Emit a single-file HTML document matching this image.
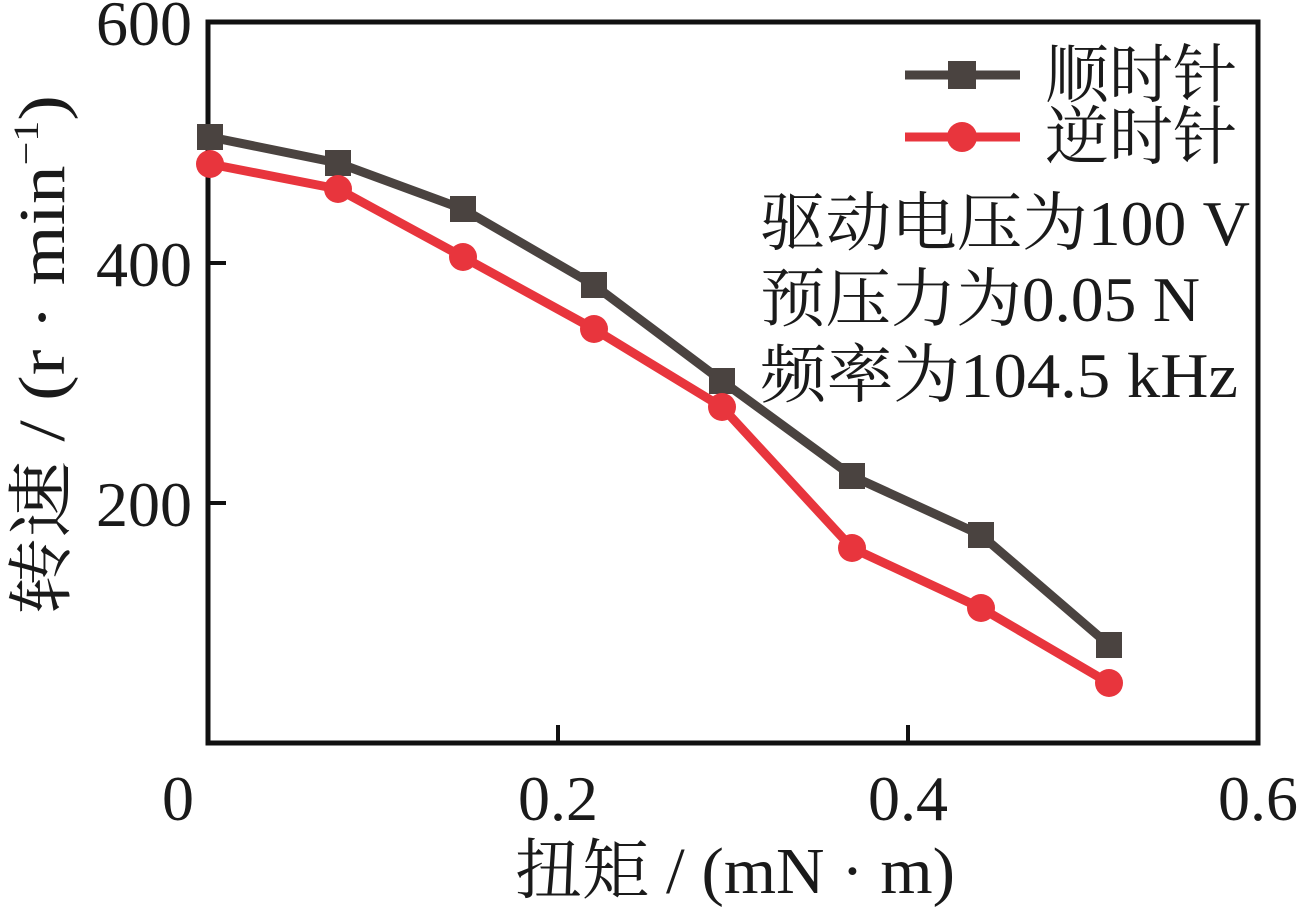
<!DOCTYPE html>
<html><head><meta charset="utf-8"><style>
html,body{margin:0;padding:0;background:#fff;}
svg{display:block;}
text{font-family:"Liberation Serif","Noto Serif CJK SC",serif;fill:#1a1a1a;}
</style></head><body>
<svg width="1303" height="911" viewBox="0 0 1303 911" xmlns="http://www.w3.org/2000/svg">
<rect x="0" y="0" width="1303" height="911" fill="#fff"/>
<rect x="208" y="22" width="1050" height="721" fill="none" stroke="#111" stroke-width="5"/>
<g stroke="#111" stroke-width="4">
<line x1="208" y1="263" x2="226" y2="263"/>
<line x1="208" y1="503" x2="226" y2="503"/>
<line x1="558" y1="743" x2="558" y2="725"/>
<line x1="908" y1="743" x2="908" y2="725"/>
</g>
<g font-size="64" text-anchor="end">
<text x="192" y="45">600</text>
<text x="192" y="286">400</text>
<text x="192" y="526">200</text>
</g>
<g font-size="64" text-anchor="middle">
<text x="178" y="820">0</text>
<text x="558" y="820">0.2</text>
<text x="908" y="820">0.4</text>
<text x="1258" y="820">0.6</text>
</g>
<text x="515" y="893" font-size="66" textLength="440" lengthAdjust="spacingAndGlyphs">扭矩 / (mN · m)</text>
<text transform="translate(64,615) rotate(-90)" font-size="66" textLength="520" lengthAdjust="spacingAndGlyphs">转速 / (r · min<tspan font-size="36" dy="-26">−1</tspan><tspan dy="26">)</tspan></text>
<polyline fill="none" stroke="#4a4340" stroke-width="9" stroke-linejoin="round" points="210,137 338,163 463,209 594,285 722,381 852,476 981,535 1109,645"/>
<g fill="#4a4340">
<rect x="197" y="124" width="26" height="26"/><rect x="325" y="150" width="26" height="26"/><rect x="450" y="196" width="26" height="26"/><rect x="581" y="272" width="26" height="26"/><rect x="709" y="368" width="26" height="26"/><rect x="839" y="463" width="26" height="26"/><rect x="968" y="522" width="26" height="26"/><rect x="1096" y="632" width="26" height="26"/>
</g>
<polyline fill="none" stroke="#e8353d" stroke-width="9" stroke-linejoin="round" points="210,164 338,189 463,257 594,329 722,407 852,548 981,608 1109,683"/>
<g fill="#e8353d">
<circle cx="210" cy="164" r="14"/><circle cx="338" cy="189" r="14"/><circle cx="463" cy="257" r="14"/><circle cx="594" cy="329" r="14"/><circle cx="722" cy="407" r="14"/><circle cx="852" cy="548" r="14"/><circle cx="981" cy="608" r="14"/><circle cx="1109" cy="683" r="14"/>
</g>
<line x1="905" y1="75" x2="1020" y2="75" stroke="#4a4340" stroke-width="9"/>
<rect x="948" y="61" width="28" height="28" fill="#4a4340"/>
<line x1="905" y1="137" x2="1020" y2="137" stroke="#e8353d" stroke-width="9"/>
<circle cx="962" cy="137" r="15" fill="#e8353d"/>
<g font-size="64">
<text x="1045" y="97">顺时针</text>
<text x="1045" y="159">逆时针</text>
<text x="760" y="245" textLength="490" lengthAdjust="spacingAndGlyphs">驱动电压为100 V</text>
<text x="760" y="321" textLength="440" lengthAdjust="spacingAndGlyphs">预压力为0.05 N</text>
<text x="760" y="397" textLength="478" lengthAdjust="spacingAndGlyphs">频率为104.5 kHz</text>
</g>
</svg>
</body></html>
